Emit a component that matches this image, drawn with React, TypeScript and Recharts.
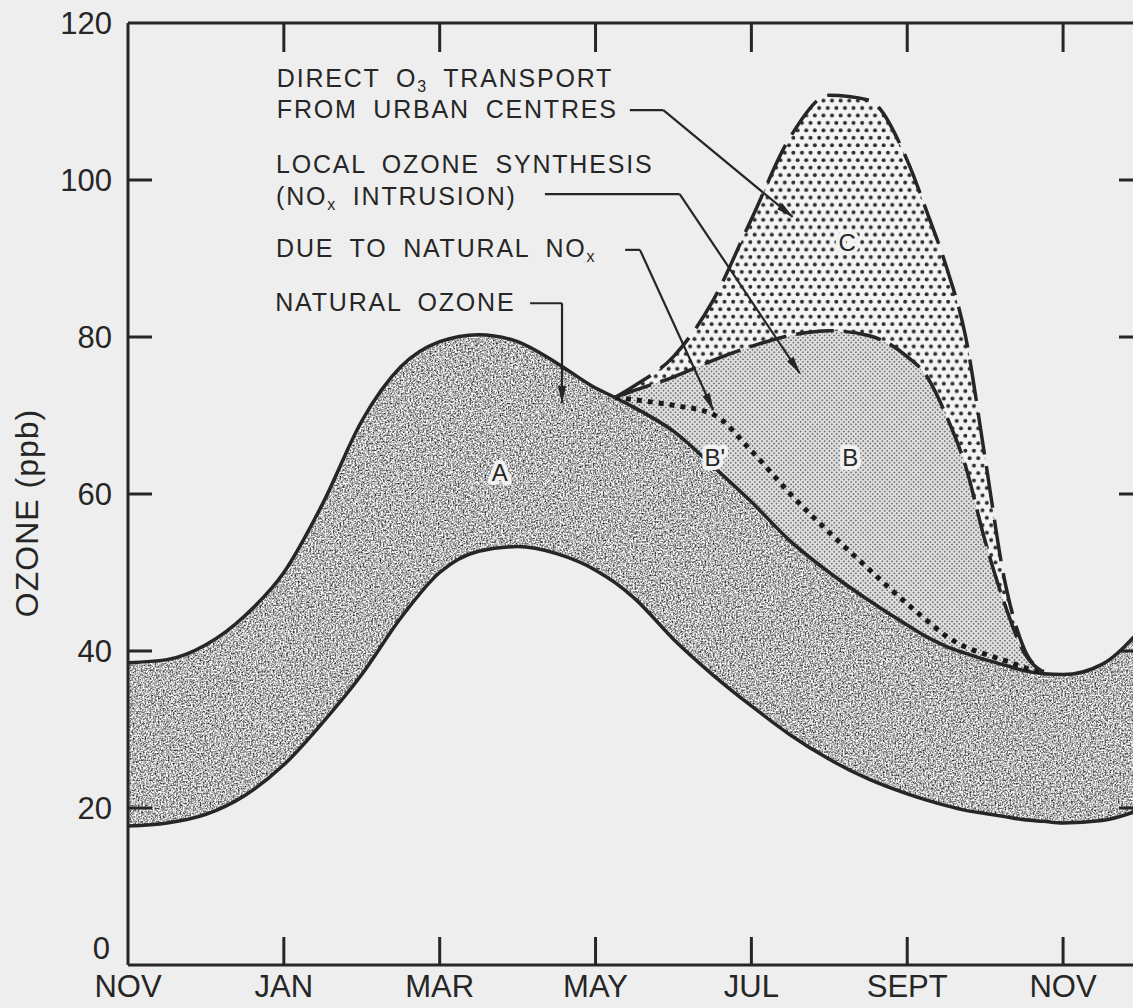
import React from 'react';
import { ComposedChart, Area, Line, XAxis, YAxis, ReferenceLine, ReferenceDot } from 'recharts';

// ---- data (months after 1 November, ozone in ppb) ----
const months = [0, 0.5, 1, 1.5, 2, 2.5, 3, 3.5, 4, 4.5, 5, 5.5, 6, 6.25, 6.5, 7, 7.5, 8, 8.5, 9, 9.5, 10, 10.25, 10.5, 10.75, 11, 11.25, 11.5, 11.75, 12, 12.5, 13];
const naturalUpper = [38.5, 38.9, 40.8, 44.5, 50, 58.8, 69.3, 76.2, 79.4, 80.3, 79.4, 76.7, 73.5, 72.3, 71, 68, 63.6, 59, 54, 50, 46.5, 43.3, 41.8, 40.6, 39.7, 38.9, 38.2, 37.5, 37.1, 37, 38.3, 42.8];
const naturalLower = [17.7, 18.1, 19.2, 21.6, 25.5, 30.9, 37, 44.2, 50, 52.7, 53.3, 52.4, 50.3, 48.7, 46.7, 41.5, 37, 33, 29.3, 26.2, 23.7, 21.8, 21, 20.3, 19.7, 19.3, 18.9, 18.5, 18.3, 18.1, 18.4, 19.8];

const excessMonths = [6.25, 6.5, 7, 7.5, 8, 8.5, 9, 9.5, 10, 10.25, 10.5, 10.75, 11, 11.25, 11.5, 11.75];
const naturalNOxTop = [72.3, 72, 71.3, 70.2, 65.5, 60, 55.1, 50.5, 46, 43.9, 41.9, 40.5, 39.6, 38.8, 37.9, 37.2];
const localSynthesisTop = [72.3, 73.2, 74.9, 77, 78.8, 80.2, 80.8, 80.2, 77.5, 75, 70, 63.5, 54, 46, 39.8, 37.3];
const urbanTransportTop = [72.3, 73.8, 77.5, 84.5, 95, 105.5, 110.8, 110.2, 102.5, 96, 89, 80, 64.5, 49, 40.3, 37.4];

const xTicks = [0, 2, 4, 6, 8, 10, 12];
const xTickLabels = ['NOV', 'JAN', 'MAR', 'MAY', 'JUL', 'SEPT', 'NOV'];
const yTicks = [0, 20, 40, 60, 80, 100, 120];

// annotation anchors (data coordinates)
const noteMonths = [1.91, 1.91, 1.9, 1.9, 1.9, 1.89];
const noteValues = [111.85, 107.9, 100.9, 96.8, 90.2, 83.3];
const leaderUrban = [[6.44, 108.9], [6.87, 108.9], [8.53, 95.3]];
const leaderLocal = [[5.35, 98.2], [7.08, 98.2], [8.62, 75.4]];
const leaderNOx = [[6.38, 91.1], [6.57, 91.1], [7.51, 70.7]];
const leaderNatural = [[5.16, 84.3], [5.57, 84.3], [5.57, 71.6]];
const regionLabels = ['A', "B'", 'B', 'C'];
const regionMonths = [4.77, 7.53, 9.27, 9.23];
const regionValues = [62.8, 64.7, 64.7, 92.1];

const data = months.map((m, i) => {
  const j = excessMonths.indexOf(m);
  return {
    m,
    up: naturalUpper[i],
    lo: naturalLower[i],
    d: j >= 0 ? naturalNOxTop[j] : undefined,
    b: j >= 0 ? localSynthesisTop[j] : undefined,
    c: j >= 0 ? urbanTransportTop[j] : undefined,
  };
});

const INK = '#262626';
const PAPER = '#eeeeee';
const FONT = "'Liberation Sans', Arial, sans-serif";

function BottomTick(p: any) {
  const { x, y, payload } = p;
  const i = xTicks.indexOf(payload.value);
  return (
    <g>
      {payload.value > 0 && <line x1={x} y1={y} x2={x} y2={y - 28} stroke={INK} strokeWidth={3} />}
      <text x={x} y={y + 32} textAnchor="middle" fontSize={31} fontFamily={FONT} fill={INK}>
        {xTickLabels[i]}
      </text>
    </g>
  );
}
function TopTick(p: any) {
  const { x, y } = p;
  return <line x1={x} y1={y} x2={x} y2={y + 29} stroke={INK} strokeWidth={3} />;
}
function LeftTick(p: any) {
  const { x, y, payload } = p;
  const v = payload.value;
  return (
    <g>
      {v > 0 && v < 120 && <line x1={x} y1={y} x2={x + 24} y2={y} stroke={INK} strokeWidth={3} />}
      <text x={v === 0 ? x - 18 : x - 16} y={v === 0 ? y - 6 : y + 11} textAnchor="end" fontSize={31}
        fontFamily={FONT} fill={INK}>
        {v}
      </text>
    </g>
  );
}
function RightTick(p: any) {
  const { x, y, payload } = p;
  const v = payload.value;
  return v > 0 && v < 120 ? <line x1={x} y1={y} x2={x - 22} y2={y} stroke={INK} strokeWidth={3} /> : <g />;
}

const noteStyle: any = { fontSize: 25, fontFamily: FONT, fill: INK, letterSpacing: 1.8, wordSpacing: 7 };
const noteContent = [
  <>DIRECT O<tspan dy={5} fontSize={16}>3</tspan><tspan dy={-5}> TRANSPORT</tspan></>,
  <>FROM URBAN CENTRES</>,
  <>LOCAL OZONE SYNTHESIS</>,
  <>(NO<tspan dy={5} fontSize={16}>x</tspan><tspan dy={-5}> INTRUSION)</tspan></>,
  <>DUE TO NATURAL NO<tspan dy={5} fontSize={16}>x</tspan></>,
  <>NATURAL OZONE</>,
];

function renderLeader(pts: number[][], key: string) {
  const out: any[] = [];
  for (let i = 0; i < pts.length - 1; i++) {
    const last = i === pts.length - 2;
    out.push(
      <ReferenceLine
        key={key + i}
        segment={[{ x: pts[i][0], y: pts[i][1] }, { x: pts[i + 1][0], y: pts[i + 1][1] }]}
        stroke={INK}
        shape={(s: any) => (
          <line x1={s.x1} y1={s.y1} x2={s.x2} y2={s.y2} stroke={INK} strokeWidth={2.2}
            markerEnd={last ? 'url(#arrowHead)' : undefined} />
        )}
      />
    );
  }
  return out;
}

export default function App() {
  return (
    <div style={{ position: 'absolute', left: 0, top: 0, width: 1133, height: 1008, overflow: 'hidden', background: PAPER }}>
      <ComposedChart width={1200} height={1008} data={data} margin={{ top: 22, right: 58, bottom: 42, left: 127 }}>
        <defs>
          <filter id="grainFilter" x="0" y="0" width="1" height="1" colorInterpolationFilters="sRGB">
            <feTurbulence type="fractalNoise" baseFrequency="0.6" numOctaves={2} seed={4} />
            <feColorMatrix type="matrix" values="1 0 0 0 0  1 0 0 0 0  1 0 0 0 0  0 0 0 0 1" />
            <feComponentTransfer>
              <feFuncR type="linear" slope="1.7" intercept="-0.14" />
              <feFuncG type="linear" slope="1.7" intercept="-0.14" />
              <feFuncB type="linear" slope="1.7" intercept="-0.14" />
            </feComponentTransfer>
          </filter>
          <pattern id="grain" patternUnits="userSpaceOnUse" x="0" y="0" width="1200" height="1008">
            <rect width="1200" height="1008" fill="#999" filter="url(#grainFilter)" />
          </pattern>
          <pattern id="fine" patternUnits="userSpaceOnUse" width="3.4" height="3.4" patternTransform="rotate(45)">
            <rect width="3.4" height="3.4" fill="#e0e0e0" />
            <rect width="1.7" height="1.7" fill="#7a7a7a" />
          </pattern>
          <pattern id="coarse" patternUnits="userSpaceOnUse" width="8.6" height="14.9">
            <rect width="8.6" height="14.9" fill="#f4f4f4" />
            <circle cx="2.15" cy="3.7" r="2" fill="#2e2e2e" />
            <circle cx="6.45" cy="11.15" r="2" fill="#2e2e2e" />
          </pattern>
          <marker id="arrowHead" viewBox="0 0 18 8" refX="17" refY="4" markerWidth="18" markerHeight="8"
            markerUnits="userSpaceOnUse" orient="auto">
            <path d="M0,0 L18,4 L0,8 z" fill={INK} />
          </marker>
        </defs>

        <XAxis dataKey="m" type="number" domain={[0, 13]} ticks={xTicks} interval={0} height={1}
          tickSize={0} tickMargin={0} tickLine={false} allowDataOverflow
          axisLine={{ stroke: INK, strokeWidth: 3 }} tick={(p: any) => <BottomTick {...p} />} />
        <XAxis xAxisId="top" orientation="top" dataKey="m" type="number" domain={[0, 13]} ticks={[2, 4, 6, 8, 10, 12]}
          interval={0} height={1} tickSize={0} tickMargin={0} tickLine={false} allowDataOverflow
          axisLine={{ stroke: INK, strokeWidth: 3 }} tick={(p: any) => <TopTick {...p} />} />
        <YAxis type="number" domain={[0, 120]} ticks={yTicks} interval={0} width={1} tickSize={0}
          tickMargin={0} tickLine={false} allowDataOverflow axisLine={{ stroke: INK, strokeWidth: 3 }}
          tick={(p: any) => <LeftTick {...p} />}
          label={{
            content: (lp: any) => {
              const vb = lp.viewBox || { x: 127, y: 23, width: 1, height: 942 };
              const cx = vb.x + (vb.width || 0) - 101;
              const cy = vb.y + vb.height / 2 + 19;
              return (
                <text x={cx} y={cy} transform={`rotate(-90 ${cx} ${cy})`} textAnchor="middle"
                  dominantBaseline="central" fontSize={32} fontFamily={FONT} fill={INK} letterSpacing={1}>
                  OZONE (ppb)
                </text>
              );
            },
          }} />
        <YAxis yAxisId="right" orientation="right" type="number" domain={[0, 120]} ticks={yTicks} interval={0}
          width={1} tickSize={0} tickMargin={0} tickLine={false} allowDataOverflow
          axisLine={{ stroke: INK, strokeWidth: 3 }} tick={(p: any) => <RightTick {...p} />} />

        {/* A: natural ozone band */}
        <Area type="monotone" dataKey={(r: any) => [r.lo, r.up]} fill="url(#grain)" fillOpacity={1}
          stroke="none" isAnimationActive={false} connectNulls />
        {/* B': due to natural NOx */}
        <Area type="monotone" dataKey={(r: any) => (r.d === undefined ? undefined : [r.up, r.d])}
          fill="url(#fine)" fillOpacity={1} stroke="none" isAnimationActive={false} />
        {/* B: local ozone synthesis */}
        <Area type="monotone" dataKey={(r: any) => (r.b === undefined ? undefined : [r.d, r.b])}
          fill="url(#fine)" fillOpacity={1} stroke="none" isAnimationActive={false} />
        {/* C: urban transport */}
        <Area type="monotone" dataKey={(r: any) => (r.c === undefined ? undefined : [r.b, r.c])}
          fill="url(#coarse)" fillOpacity={1} stroke="none" isAnimationActive={false} />

        <Line type="monotone" dataKey="up" stroke={INK} strokeWidth={3.5} dot={false} isAnimationActive={false} />
        <Line type="monotone" dataKey="lo" stroke={INK} strokeWidth={3.5} dot={false} isAnimationActive={false} />
        <Line type="monotone" dataKey="d" stroke="#1a1a1a" strokeWidth={5} strokeDasharray="5 6" dot={false}
          isAnimationActive={false} />
        <Line type="monotone" dataKey="b" stroke={INK} strokeWidth={3.5} strokeDasharray="38 10" dot={false}
          isAnimationActive={false} />
        <Line type="monotone" dataKey="c" stroke={INK} strokeWidth={3.5} strokeDasharray="42 12" dot={false}
          isAnimationActive={false} />

        {renderLeader(leaderUrban, 'u')}
        {renderLeader(leaderLocal, 'l')}
        {renderLeader(leaderNOx, 'n')}
        {renderLeader(leaderNatural, 'a')}

        {noteContent.map((c, i) => (
          <ReferenceDot key={'note' + i} x={noteMonths[i]} y={noteValues[i]} r={1}
            shape={(s: any) => (
              <text x={s.cx} y={s.cy} {...noteStyle}>{c}</text>
            )} />
        ))}
        {regionLabels.map((t, i) => (
          <ReferenceDot key={'reg' + i} x={regionMonths[i]} y={regionValues[i]} r={1}
            shape={(s: any) => (
              <text x={s.cx} y={s.cy} textAnchor="middle" dominantBaseline="central" fontSize={24}
                fontFamily={FONT} fill={INK} stroke="#f2f2f2" strokeWidth={8} strokeLinejoin="round"
                paintOrder="stroke">{t}</text>
            )} />
        ))}
      </ComposedChart>
    </div>
  );
}
